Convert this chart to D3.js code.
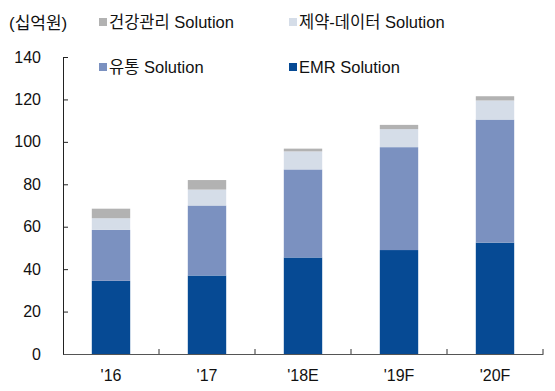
<!DOCTYPE html>
<html><head><meta charset="utf-8">
<script src="https://cdn.jsdelivr.net/npm/d3@7"></script>
<style>body{margin:0;background:#fff}svg{display:block}text{font-family:"Liberation Sans",Arial,"Noto Sans CJK KR",sans-serif;fill:#111}</style>
</head><body><svg id="c" width="555" height="391"></svg>
<script>
const categories = ["'16", "'17", "'18E", "'19F", "'20F"];
const emr = [34.5, 37, 45.5, 49, 52.5];
const distribution = [24, 33, 41.5, 48.5, 58];
const pharma = [5.5, 7.5, 8.5, 8.5, 9];
const health = [4.5, 4.5, 1.3, 2, 2];
const seriesNames = ["EMR Solution", "유통 Solution", "제약-데이터 Solution", "건강관리 Solution"];
const colors = ["#064a94", "#7b91c0", "#d5dde8", "#b2b2b2"];
const yTicks = [0, 20, 40, 60, 80, 100, 120, 140];

const svg = d3.select("#c");
const L = 63, R = 543, T = 57, B = 354;
const x = d3.scaleBand().domain(categories).range([L, R]).paddingInner(0.6).paddingOuter(0.3);
const y = d3.scaleLinear().domain([0, 140]).range([B, T]);

const table = categories.map((c, i) => ({cat: c, s0: emr[i], s1: distribution[i], s2: pharma[i], s3: health[i]}));
const stack = d3.stack().keys(["s0", "s1", "s2", "s3"])(table);

svg.append("g").selectAll("g").data(stack).join("g").attr("fill", (d, i) => colors[i])
  .selectAll("rect").data(d => d).join("rect")
  .attr("x", d => x(d.data.cat)).attr("width", x.bandwidth())
  .attr("y", d => y(d[1])).attr("height", d => y(d[0]) - y(d[1]));

// y axis
const ya = svg.append("g").attr("transform", `translate(${L},0)`)
  .call(d3.axisLeft(y).tickValues(yTicks).tickSizeInner(-5).tickSizeOuter(0).tickPadding(22));
ya.select(".domain").attr("stroke", "#222");
ya.selectAll(".tick line").attr("stroke", "#222");
ya.selectAll("text").style("font-size", "16px").attr("fill", "#111");

// x axis
const xa = svg.append("g").attr("transform", `translate(0,${B})`)
  .call(d3.axisBottom(x).tickSize(0).tickPadding(16));
xa.select(".domain").attr("stroke", "#555");
xa.selectAll("text").style("font-size", "16px").attr("fill", "#111");
const bounds = d3.range(categories.length + 1).map(i => L + i * x.step());
svg.append("g").selectAll("line").data(bounds.slice(1)).join("line")
  .attr("x1", d => d).attr("x2", d => d).attr("y1", B).attr("y2", B - 5).attr("stroke", "#333");

// unit
svg.append("text").attr("x", 9).attr("y", 29).style("font-size", "17px").text("(십억원)");

// legend
const legendPos = [[1, 99, 67], [0, 289, 67], [3, 99, 22], [2, 289, 22]];
const lg = svg.append("g");
legendPos.forEach(([i, lx, ly]) => {
  lg.append("rect").attr("x", lx).attr("y", ly - 4).attr("width", 8).attr("height", 8).attr("fill", colors[i]);
  lg.append("text").attr("x", lx + 10).attr("y", ly + 6).style("font-size", "16.5px").text(seriesNames[i]);
});
</script></body></html>
